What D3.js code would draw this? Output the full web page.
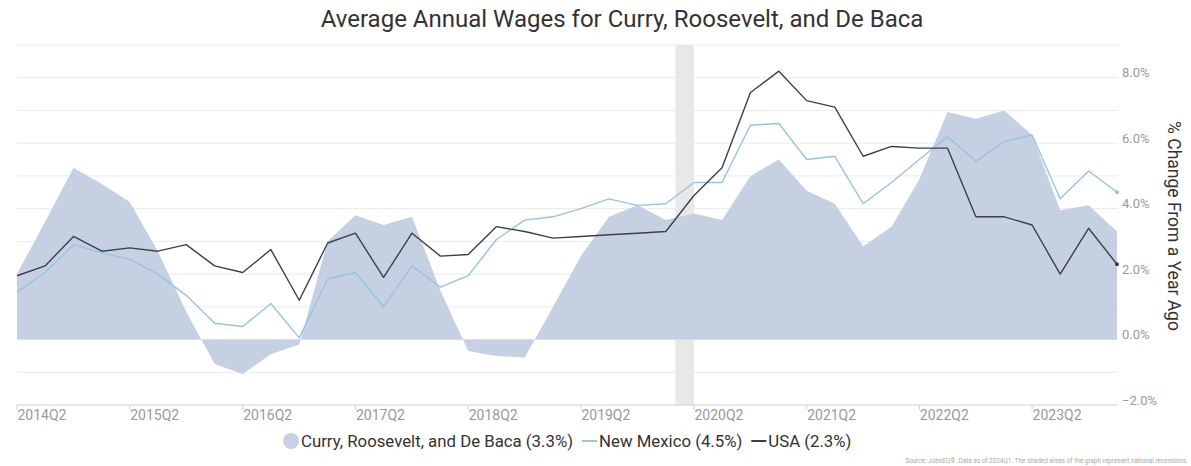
<!DOCTYPE html>
<html>
<head>
<meta charset="utf-8">
<script src="https://cdn.jsdelivr.net/npm/d3@7"></script>
<style>
  html, body { margin: 0; padding: 0; background: #fff; }
  svg { display: block; font-family: Roboto, "Noto Sans", sans-serif; }
</style>
</head>
<body>
<svg id="chart" width="1191" height="466"></svg>
<script>
// Quarter labels, 2014Q2 through 2024Q1
const quarters = [];
for (let y = 2014; y <= 2024; y++) {
  for (let q = 1; q <= 4; q++) {
    if ((y === 2014 && q < 2) || (y === 2024 && q > 1)) continue;
    quarters.push(y + "Q" + q);
  }
}

// % change from a year ago
const curryValues = [
  2.0, 3.6, 5.25, 4.75, 4.2, 2.7, 0.85, -0.75, -1.05, -0.45,
  -0.15, 3.0, 3.8, 3.5, 3.75, 1.5, -0.35, -0.5, -0.55, 1.0,
  2.55, 3.75, 4.1, 3.65, 3.85, 3.65, 5.0, 5.5, 4.55, 4.15,
  2.85, 3.45, 4.9, 6.95, 6.75, 7.0, 6.25, 3.95, 4.1, 3.3
];
const newMexicoValues = [
  1.45, 2.05, 2.9, 2.65, 2.45, 2.0, 1.35, 0.5, 0.4, 1.1,
  0.05, 1.85, 2.05, 1.0, 2.25, 1.6, 1.95, 3.05, 3.65, 3.75,
  4.0, 4.3, 4.1, 4.15, 4.8, 4.8, 6.55, 6.6, 5.5, 5.6,
  4.15, 4.8, 5.5, 6.2, 5.45, 6.05, 6.25, 4.3, 5.15, 4.5
];
const usaValues = [
  1.95, 2.25, 3.15, 2.7, 2.8, 2.7, 2.9, 2.25, 2.05, 2.75,
  1.2, 2.95, 3.25, 1.9, 3.25, 2.55, 2.6, 3.45, 3.3, 3.1,
  3.15, 3.2, 3.25, 3.3, 4.4, 5.25, 7.55, 8.2, 7.3, 7.1,
  5.6, 5.9, 5.85, 5.85, 3.75, 3.75, 3.5, 2.0, 3.4, 2.3
];

const xTickLabels = ["2014Q2", "2015Q2", "2016Q2", "2017Q2", "2018Q2",
                     "2019Q2", "2020Q2", "2021Q2", "2022Q2", "2023Q2"];
const yGridValues = [-2, -1, 0, 1, 2, 3, 4, 5, 6, 7, 8, 9];
const yTickValues = [-2, 0, 2, 4, 6, 8];
const recessions = [["2020-02-01", "2020-04-01"]];

const seriesNames = ["Curry, Roosevelt, and De Baca", "New Mexico", "USA"];
const titleText = "Average Annual Wages for Curry, Roosevelt, and De Baca";
const axisTitle = "% Change From a Year Ago";
const sourceText = "Source: JobsEQ®. Data as of 2024Q1. The shaded areas of the graph represent national recessions.";

// Colours
const areaColor = "#c5d1e3";
const nmColor = "#96c4e3";
const usaColor = "#3b4045";
const gridColor = "#ebebeb";
const labelGray = "#9a9a9a";

const parseQ = s => new Date(+s.slice(0, 4), (+s.slice(5) - 1) * 3, 1);
const dates = quarters.map(parseQ);

const svg = d3.select("#chart");

const x = d3.scaleTime()
  .domain([dates[0], dates[dates.length - 1]])
  .range([17, 1117]);
const y = d3.scaleLinear().domain([-2, 9]).range([405, 45]);

const plotLeft = 17, plotRight = 1118;

// Gridlines
svg.append("g").selectAll("line")
  .data(yGridValues.filter(v => v !== -2))
  .join("line")
  .attr("x1", plotLeft).attr("x2", plotRight)
  .attr("y1", d => y(d)).attr("y2", d => y(d))
  .attr("stroke", gridColor).attr("stroke-width", 1);

// Recession shading
svg.append("g").selectAll("rect")
  .data(recessions)
  .join("rect")
  .attr("x", d => x(new Date(d[0])))
  .attr("width", d => x(new Date(d[1])) - x(new Date(d[0])))
  .attr("y", y(9))
  .attr("height", y(-2) - y(9))
  .attr("fill", "#e8e8e8");

// Area for Curry, Roosevelt, and De Baca
const area = d3.area()
  .x((d, i) => x(dates[i]))
  .y0(y(0))
  .y1(d => y(d));
svg.append("path")
  .datum(curryValues)
  .attr("d", area)
  .attr("fill", areaColor);

// Lines
const line = d3.line()
  .x((d, i) => x(dates[i]))
  .y(d => y(d));
svg.append("path").datum(newMexicoValues)
  .attr("d", line).attr("fill", "none")
  .attr("stroke", nmColor).attr("stroke-width", 1.4).attr("stroke-linejoin", "round");
svg.append("path").datum(usaValues)
  .attr("d", line).attr("fill", "none")
  .attr("stroke", usaColor).attr("stroke-width", 1.4).attr("stroke-linejoin", "round");

// End markers
const last = dates.length - 1;
[[newMexicoValues, nmColor], [usaValues, usaColor]].forEach(([vals, c]) => {
  svg.append("circle")
    .attr("cx", x(dates[last])).attr("cy", y(vals[last]))
    .attr("r", 2).attr("fill", c);
});

// X axis
const xAxisG = svg.append("g").attr("transform", `translate(0,${y(-2)})`);
xAxisG.append("line")
  .attr("x1", plotLeft).attr("x2", plotRight)
  .attr("stroke", "#d0d0d0").attr("stroke-width", 1);
const xTickDates = xTickLabels.map(parseQ);
xAxisG.selectAll("line.tick")
  .data(xTickDates)
  .join("line")
  .attr("class", "tick")
  .attr("x1", d => x(d)).attr("x2", d => x(d))
  .attr("y1", 0).attr("y2", 5)
  .attr("stroke", "#d0d0d0");
xAxisG.selectAll("text")
  .data(xTickLabels)
  .join("text")
  .attr("x", (d, i) => x(xTickDates[i]) + 0.5)
  .attr("y", 15)
  .attr("fill", labelGray)
  .attr("font-size", 14)
  .text(d => d);

// Right axis labels
const fmt = d3.format(".1f");
svg.append("g").selectAll("text")
  .data(yTickValues)
  .join("text")
  .attr("x", 1122)
  .attr("y", d => y(d) - 0.5)
  .attr("fill", labelGray)
  .attr("font-size", 13)
  .text(d => fmt(d) + "%");

// Right axis title
svg.append("text")
  .attr("transform", `translate(1168,226) rotate(90)`)
  .attr("text-anchor", "middle")
  .attr("fill", "#333")
  .attr("font-size", 17.5)
  .text(axisTitle);

// Title
svg.append("text")
  .attr("x", 622).attr("y", 27)
  .attr("text-anchor", "middle")
  .attr("fill", "#333")
  .attr("font-size", 24)
  .text(titleText);

// Legend
const lastVals = [curryValues, newMexicoValues, usaValues].map(v => v[v.length - 1]);
const legendSize = 16.8;
const legend = svg.append("g").attr("transform", "translate(0,441)");
let lx = 283;
legend.append("circle").attr("cx", lx + 8).attr("cy", 0).attr("r", 8).attr("fill", areaColor);
const t0 = legend.append("text").attr("x", lx + 18).attr("y", 6)
  .attr("font-size", legendSize).attr("fill", "#333")
  .text(`${seriesNames[0]} (${fmt(lastVals[0])}%)`);
lx = lx + 18 + t0.node().getComputedTextLength() + 9;
[[nmColor, 1], [usaColor, 2]].forEach(([c, k]) => {
  legend.append("line").attr("x1", lx).attr("x2", lx + 15)
    .attr("y1", 0).attr("y2", 0).attr("stroke", c).attr("stroke-width", 2);
  const t = legend.append("text").attr("x", lx + 17).attr("y", 6)
    .attr("font-size", legendSize).attr("fill", "#333")
    .text(`${seriesNames[k]} (${fmt(lastVals[k])}%)`);
  lx = lx + 17 + t.node().getComputedTextLength() + 9;
});

// Source note
svg.append("text")
  .attr("x", 1188).attr("y", 463)
  .attr("text-anchor", "end")
  .attr("fill", "#aaa")
  .attr("font-size", 6.4)
  .text(sourceText);
</script>
</body>
</html>
